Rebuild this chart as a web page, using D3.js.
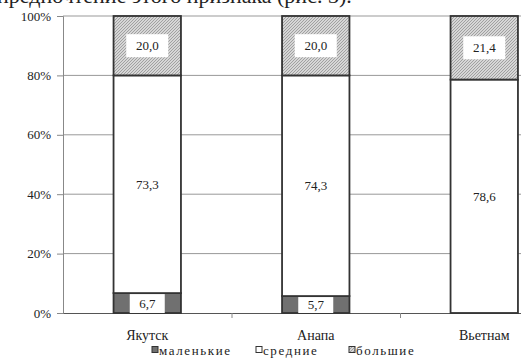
<!DOCTYPE html>
<html>
<head>
<meta charset="utf-8">
<script src="https://cdn.jsdelivr.net/npm/d3@7"></script>
<style>
  body { margin: 0; background: #fff; }
  svg { display: block; }
  svg text { font-family: "Liberation Serif", "Times New Roman", "DejaVu Serif", serif; }
</style>
</head>
<body>
<div id="chart"></div>
<script>
// data (percent)
const cities = ["Якутск", "Анапа", "Вьетнам"];
const small = [6.7, 5.7, 0];
const medium = [73.3, 74.3, 78.6];
const large = [20.0, 20.0, 21.4];
const yTicks = [0, 20, 40, 60, 80, 100];
const legendNames = ["маленькие", "средние", "большие"];
const caption = "предпочтение этого признака (рис. 3).";

const W = 521, H = 362;
const svg = d3.select("#chart").append("svg")
    .attr("width", W).attr("height", H);

const defs = svg.append("defs");
const pat = defs.append("pattern")
    .attr("id", "hatch")
    .attr("patternUnits", "userSpaceOnUse")
    .attr("width", 3).attr("height", 3);
pat.append("rect").attr("width", 3).attr("height", 3).attr("fill", "#d6d6d6");
pat.append("path").attr("d", "M0,3 L3,0 M-1,1 L1,-1 M2,4 L4,2")
    .attr("stroke", "#9a9a9a").attr("stroke-width", 0.9);

// cut-off text line above the chart
svg.append("text")
    .attr("x", -3).attr("y", 3)
    .attr("font-size", 22)
    .attr("fill", "#222")
    .text(caption);

const plotLeft = 63, plotTop = 16, plotBottom = 313;
const x = d3.scaleBand().domain(cities).range([plotLeft, plotLeft + 3 * 168.5]).padding(0);
const y = d3.scaleLinear().domain([0, 100]).range([plotBottom, plotTop]);
const barW = x.bandwidth() * 0.4;
const fmt = v => v.toFixed(1).replace(".", ",");

// gridlines
svg.append("g").selectAll("line").data(yTicks.filter(d => d > 0)).join("line")
    .attr("x1", plotLeft).attr("x2", W + 60)
    .attr("y1", d => y(d)).attr("y2", d => y(d))
    .attr("stroke", "#999").attr("stroke-width", 1);

// y axis
const yAxis = d3.axisLeft(y).tickValues(yTicks).tickSize(6).tickPadding(6)
    .tickFormat(d => d + "%");
const gy = svg.append("g").attr("transform", `translate(${plotLeft},0)`).call(yAxis);
gy.attr("font-family", null);
gy.select(".domain").attr("stroke", "#888");
gy.selectAll(".tick line").attr("stroke", "#888");
gy.selectAll("text").attr("font-size", 13).attr("fill", "#222");

// x axis
const xAxis = d3.axisBottom(x).tickSize(0).tickPadding(17);
const gx = svg.append("g").attr("transform", `translate(0,${plotBottom})`).call(xAxis);
gx.attr("font-family", null);
gx.select(".domain").attr("stroke", "#555").attr("stroke-width", 1.2);
gx.selectAll("text").attr("font-size", 14).attr("fill", "#222");
// category boundary ticks
svg.append("g").selectAll("line").data(cities.slice(1)).join("line")
    .attr("x1", d => x(d) + 0.5).attr("x2", d => x(d) + 0.5)
    .attr("y1", plotBottom).attr("y2", plotBottom + 5)
    .attr("stroke", "#888");

// stacked segments
const rows = cities.map((c, i) => ({ c, s: small[i], m: medium[i], l: large[i] }));
const segs = [];
rows.forEach(r => {
    segs.push({ c: r.c, y0: 0, y1: r.s, v: r.s, kind: "s" });
    segs.push({ c: r.c, y0: r.s, y1: r.s + r.m, v: r.m, kind: "m" });
    segs.push({ c: r.c, y0: r.s + r.m, y1: r.s + r.m + r.l, v: r.l, kind: "l" });
});
const fills = { s: "#707070", m: "#ffffff", l: "url(#hatch)" };
const shown = segs.filter(d => d.v > 0);

svg.append("g").selectAll("rect").data(shown).join("rect")
    .attr("x", d => x(d.c) + (x.bandwidth() - barW) / 2)
    .attr("width", barW)
    .attr("y", d => y(d.y1))
    .attr("height", d => y(d.y0) - y(d.y1))
    .attr("fill", d => fills[d.kind])
    .attr("stroke", "#333").attr("stroke-width", 1.8);

// value labels with white boxes
const boxW = { s: 35, m: 36, l: 42 };
const lab = svg.append("g").selectAll("g").data(shown).join("g")
    .attr("transform", d => `translate(${x(d.c) + x.bandwidth() / 2},${y((d.y0 + d.y1) / 2)})`);
lab.append("rect")
    .attr("x", d => -boxW[d.kind] / 2).attr("width", d => boxW[d.kind])
    .attr("y", d => d.kind === "s" ? -(y(d.y0) - y(d.y1)) / 2 + 1 : -11.5)
    .attr("height", d => d.kind === "s" ? (y(d.y0) - y(d.y1)) - 1 : 23)
    .attr("fill", "#fff");
lab.append("text")
    .attr("text-anchor", "middle").attr("dy", "0.35em")
    .attr("font-size", 13).attr("fill", "#222")
    .text(d => fmt(d.v));

// legend
const legX = [152, 256, 349];
const legKinds = ["s", "m", "l"];
const leg = svg.append("g").selectAll("g").data(legendNames).join("g")
    .attr("transform", (d, i) => `translate(${legX[i]},350)`);
leg.append("rect")
    .attr("x", 0).attr("y", -3.5).attr("width", 6).attr("height", 6)
    .attr("fill", (d, i) => fills[legKinds[i]])
    .attr("stroke", "#333").attr("stroke-width", 1);
leg.append("text")
    .attr("x", 7).attr("dy", "0.35em")
    .attr("font-size", 13).attr("letter-spacing", 1.6)
    .attr("fill", "#222")
    .text(d => d);
</script>
</body>
</html>
